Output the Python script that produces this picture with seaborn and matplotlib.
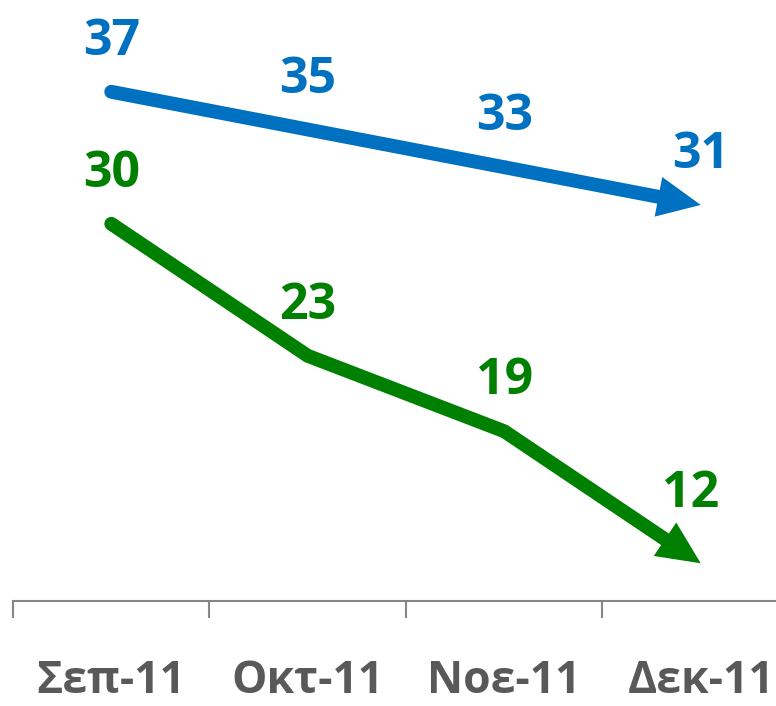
import pandas as pd
import seaborn as sns
import matplotlib.pyplot as plt

# Data
months = ["Σεπ-11", "Οκτ-11", "Νοε-11", "Δεκ-11"]
blue_vals = [37, 35, 33, 31]
green_vals = [30, 23, 19, 12]

BLUE = "#0070C0"
GREEN = "#008000"
GREY = "#595959"


def main():
    sns.set_style("white")
    plt.rcParams['font.family'] = ['Open Sans', 'DejaVu Sans']

    fig = plt.figure(figsize=(7.76, 7.06), dpi=100)
    # axis extends past the right edge like the original
    ax = fig.add_axes([13 / 776, 105 / 706, 786 / 776, 601 / 706])

    x = list(range(len(months)))
    series = [("blue", blue_vals, BLUE), ("green", green_vals, GREEN)]

    for name, vals, col in series:
        df = pd.DataFrame({"x": x, "y": vals})
        # line up to the third point, arrow for the last segment
        sns.lineplot(data=df.iloc[:-1], x="x", y="y", ax=ax, color=col,
                     linewidth=10, solid_capstyle="round", solid_joinstyle="round")
        ax.annotate("", xy=(x[-1], vals[-1]), xytext=(x[-2], vals[-2]),
                    arrowprops=dict(arrowstyle="simple,head_length=31,head_width=29,tail_width=10",
                                    mutation_scale=1, color=col, lw=0,
                                    shrinkA=0, shrinkB=0))
        for i, v in enumerate(vals):
            off = (0, 36)
            if name == "green" and i == len(vals) - 1:
                off = (-7, 50)
            ax.annotate(str(v), xy=(x[i], v), xytext=off, textcoords="offset points",
                        ha="center", va="center", fontsize=36, fontweight="bold", color=col)

    ax.set_xlim(-0.5, 3.5)
    ax.set_ylim(10, 10 + 601 / 18.86)
    ax.set_xticks(x)
    ax.set_xticklabels(months, fontsize=32, fontweight="bold", color=GREY)
    ax.set_xticks([-0.5, 0.5, 1.5, 2.5, 3.5], minor=True)
    ax.tick_params(axis="x", which="both", bottom=True)
    ax.tick_params(axis="x", which="major", length=0, pad=42)
    ax.tick_params(axis="x", which="minor", length=12, width=1.5, color="#868686", direction="out")
    ax.set_yticks([])
    ax.set_xlabel("")
    ax.set_ylabel("")
    for s in ["top", "right", "left"]:
        ax.spines[s].set_visible(False)
    ax.spines["bottom"].set_color("#868686")
    ax.spines["bottom"].set_linewidth(1.5)
    ax.patch.set_visible(False)

    fig.savefig("out.png", dpi=100)


if __name__ == "__main__":
    main()
